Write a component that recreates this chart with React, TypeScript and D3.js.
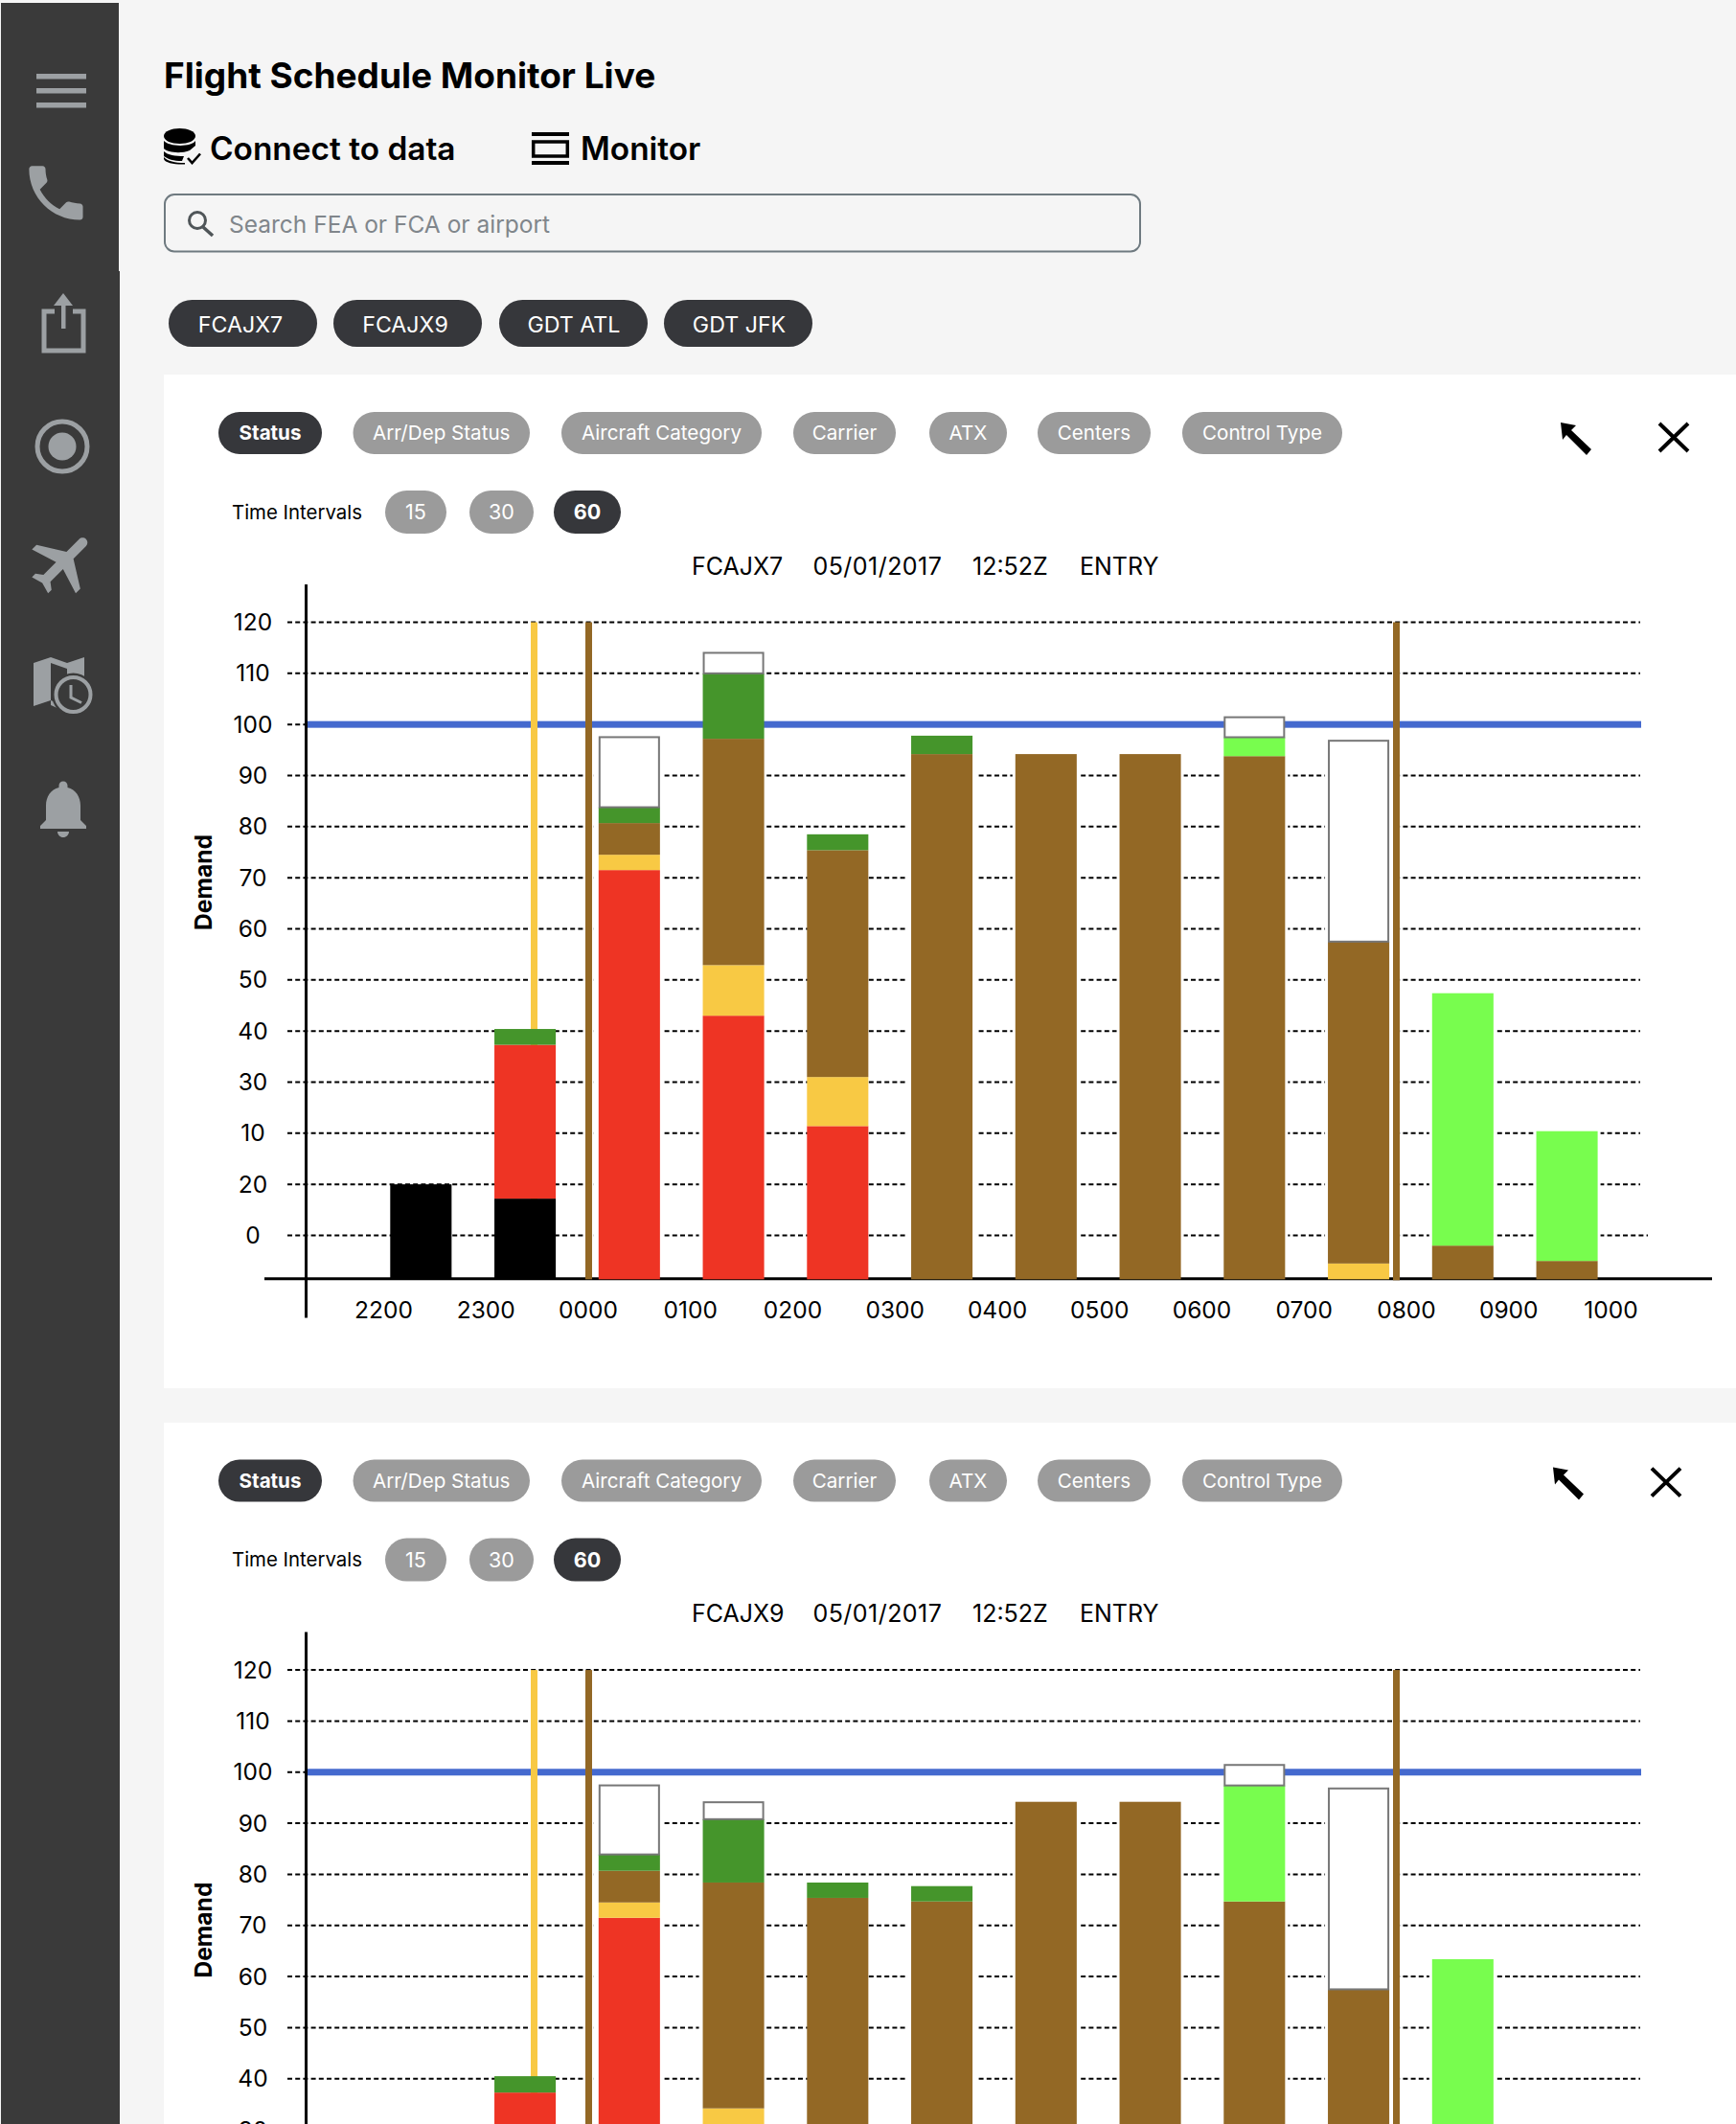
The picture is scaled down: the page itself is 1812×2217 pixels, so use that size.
import React from "react";
import * as d3 from "d3";

const FONT = "Inter, 'Noto Sans', sans-serif";

// ---------- data ----------
const hours = ["2200","2300","0000","0100","0200","0300","0400","0500","0600","0700","0800","0900"];
const xAxisLabels = ["2200","2300","0000","0100","0200","0300","0400","0500","0600","0700","0800","0900","1000"];
const yTickLabels = ["0","20","10","30","40","50","60","70","80","90","100","110","120"];
const seriesKeys = ["black","red","yellow","brown","green","lime","open"];
const seriesColors = ["#000000","#EE3424","#F8C944","#936825","#45952B","#78FD4E","#FFFFFF"];

const fcajx7Black  = [18.4,15.6,0,0,0,0,0,0,0,0,0,0];
const fcajx7Red    = [0,30.1,79.9,51.4,29.8,0,0,0,0,0,0,0];
const fcajx7Yellow = [0,0,3,9.9,9.6,0,0,0,0,2.9,0,0];
const fcajx7Brown  = [0,0,6.2,44.3,44.4,102.6,102.6,102.6,102.2,63,6.4,3.4];
const fcajx7Green  = [0,3.1,3.1,12.8,3.1,3.6,0,0,0,0,0,0];
const fcajx7Lime   = [0,0,0,0,0,0,0,0,3.7,0,49.4,25.4];
const fcajx7Open   = [0,0,13.9,4.2,0,0,0,0,4.1,39.5,0,0];

const fcajx9Black  = [18.4,15.6,0,0,0,0,0,0,0,0,0,0];
const fcajx9Red    = [0,30.1,79.9,32.4,0,0,0,0,0,0,0,0];
const fcajx9Yellow = [0,0,3,10.2,0,0,0,0,0,2.9,0,0];
const fcajx9Brown  = [0,0,6.2,44.2,83.8,83.1,102.6,102.6,83.1,63,6.4,3.4];
const fcajx9Green  = [0,3.2,3.2,12.4,3,3,0,0,0,0,0,0];
const fcajx9Lime   = [0,0,0,0,0,0,0,0,22.7,0,65.4,20];
const fcajx9Open   = [0,0,13.7,3.5,0,0,0,0,4.2,39.5,0,0];

const AXIS_BELOW_ZERO = 8.4;
const CAPACITY = 100;
const MARKER_TOP = 120;

const groupPills = ["Status","Arr/Dep Status","Aircraft Category","Carrier","ATX","Centers","Control Type"];
const intervalPills = ["15","30","60"];
const flightPills = ["FCAJX7","FCAJX9","GDT ATL","GDT JFK"];

// ---------- shared scales ----------
const x = d3.scaleBand().domain(hours).range([407.3, 1667.6]).paddingInner(0.411);
const xLabels = d3.scalePoint().domain(xAxisLabels).range([400.5, 1681.5]);

const ICON = "#9CA0A3";
const PILL_GREY = "#9B9B9B";
const PILL_DARK = "#36373B";
const PAGE_H = 2217;

function Pill({ x0, x1, y0, y1, text, dark, size = 20.6, weight, dy = 0, dx = 0 }: any) {
  return (
    <g>
      <rect x={x0} y={y0} width={x1 - x0} height={y1 - y0} rx={(y1 - y0) / 2} fill={dark ? PILL_DARK : PILL_GREY} />
      <text x={(x0 + x1) / 2 + dx} y={(y0 + y1) / 2 + size * 0.36 + dy} textAnchor="middle" fontSize={size}
        fontWeight={weight || (dark ? 700 : 400)} fill="#fff" fontFamily={FONT}>{text}</text>
    </g>
  );
}

function Sidebar() {
  return (
    <g>
      <rect x={1} y={3} width={123} height={281} fill="#3A3A3A" />
      <rect x={1} y={283} width={124} height={1934} fill="#3A3A3A" />
      {/* menu */}
      {[77, 92, 107].map((y) => <rect key={y} x={38} y={y} width={52} height={5.5} fill={ICON} />)}
      {/* phone */}
      <path transform="translate(21,164) scale(3.12)" fill={ICON}
        d="M6.62 10.79c1.44 2.83 3.76 5.14 6.59 6.59l2.2-2.2c.27-.27.67-.36 1.02-.24 1.12.37 2.33.57 3.57.57.55 0 1 .45 1 1V20c0 .55-.45 1-1 1-9.39 0-17-7.61-17-17 0-.55.45-1 1-1h3.5c.55 0 1 .45 1 1 0 1.25.2 2.45.57 3.57.11.35.03.74-.25 1.02l-2.2 2.2z" />
      {/* share */}
      <path d="M57 325 H46 V366 H87 V325 H76" fill="none" stroke={ICON} strokeWidth={5} />
      <rect x={64} y={316} width={4.5} height={27} fill={ICON} />
      <path d="M56 319 L66 306 L76 319 Z" fill={ICON} />
      {/* target */}
      <circle cx={65} cy={466} r={26} fill="none" stroke={ICON} strokeWidth={5} />
      <circle cx={65} cy={466} r={14.5} fill={ICON} />
      {/* plane */}
      <path transform="translate(67,588) rotate(45) scale(3.4) translate(-12,-12)" fill={ICON}
        d="M21 16v-2l-8-5V3.5c0-.83-.67-1.5-1.5-1.5S10 2.67 10 3.5V9l-8 5v2l8-2.5V19l-2 1.5V22l3.5-1 3.5 1v-1.5L13 19v-5.5l8 2.5z" />
      {/* map + clock */}
      <path d="M35 692 L53 686 L53 731 L35 737 Z" fill={ICON} />
      <path d="M53 686 L70 692 L70 698 L53 692 Z" fill={ICON} />
      <path d="M70 692 L88 686 L88 712 L70 712 Z" fill={ICON} />
      <path d="M53 731 L62 735 L62 740 L53 736 Z" fill={ICON} />
      <circle cx={76.5} cy={725} r={22.5} fill="#3A3A3A" />
      <circle cx={76.5} cy={725} r={18} fill="none" stroke={ICON} strokeWidth={4} />
      <path d="M74 715 V728 L85 733.5" fill="none" stroke={ICON} strokeWidth={3} />
      {/* bell */}
      <path transform="translate(30,808) scale(3)" fill={ICON}
        d="M12 22c1.1 0 2-.9 2-2h-4c0 1.1.89 2 2 2zm6-6v-5c0-3.07-1.64-5.64-4.5-6.32V4c0-.83-.67-1.5-1.5-1.5s-1.5.67-1.5 1.5v.68C7.63 5.36 6 7.92 6 11v5l-2 2v1h16v-1l-2-2z" />
    </g>
  );
}

function Header() {
  const pillX = [[176,331],[348,503],[521,676],[693,848]];
  const textNudge = [-2.5,-2.5,0.5,1];
  return (
    <g fontFamily={FONT}>
      <text x={171} y={92} fontSize={37} fontWeight={700} fill="#000">Flight Schedule Monitor Live</text>
      {/* database icon */}
      <path d="M171 142 C171 137 179 134 187.5 134 C196 134 204 137 204 142 C204 147 196 150 187.5 150 C179 150 171 147 171 142 Z" fill="#000" />
      <path d="M171 147 C176 153 199 154 204 147 V152 L198 157 C188 161 175 159 171 155 Z" fill="#000" />
      <path d="M171 158 C175 162 183 163 192 163 L190 168 C181 168 175 166 171 163 Z" fill="#000" />
      <path d="M171 164 C175 168 182 170 193 170 V171.5 C183 172 172 170 171 166 Z" fill="#000" />
      <path d="M196 165 L200.5 170 L209 160.5" fill="none" stroke="#000" strokeWidth={2.6} />
      <text x={219} y={166.5} fontSize={33.4} fontWeight={600} fill="#000">Connect to data</text>
      {/* monitor icon */}
      <rect x={555} y={138} width={39} height={4} fill="#000" />
      <rect x={556.7} y={148} width={35.6} height={15} fill="none" stroke="#000" strokeWidth={3.5} />
      <rect x={555} y={168} width={39} height={4} fill="#000" />
      <text x={606} y={166.5} fontSize={33.4} fontWeight={600} fill="#000">Monitor</text>
      {/* search */}
      <rect x={172} y={203} width={1018} height={59.5} rx={10} fill="#F5F5F5" stroke="#6F7A80" strokeWidth={2} />
      <circle cx={206} cy={230} r={8.5} fill="none" stroke="#4F5558" strokeWidth={3} />
      <path d="M212 237 L222 246" stroke="#4F5558" strokeWidth={3.5} />
      <text x={239} y={243} fontSize={24.5} fill="#80868B">Search FEA or FCA or airport</text>
      {flightPills.map((t, i) => (
        <Pill key={t} x0={pillX[i][0]} x1={pillX[i][1]} y0={313} y1={362} text={t} dark size={23.2} weight={400} dy={1} dx={textNudge[i]} />
      ))}
    </g>
  );
}

function Panel({ top, bottom, shift, iconShiftX, iconShiftY, titleNudge, title, rows }: any) {
  const y = d3.scaleLinear().domain([0, 120]).range([1289.5 + shift, 649.5 + shift]);
  const base = -AXIS_BELOW_ZERO;
  const table = hours.map((h, i) => {
    const row: any = { hour: h };
    seriesKeys.forEach((k, s) => { row[k] = rows[s][i]; });
    return row;
  });
  const stacked = d3.stack().keys(seriesKeys)(table);
  const totals = table.map((_, i) => d3.sum(rows, (r: any) => r[i]));
  const yBar = (v: number) => y(v + base);
  const groupX = [[228,336],[368.5,553],[586,795],[828,935],[970,1051],[1083,1201],[1234,1401]];
  const intX = [[402,466],[490,557],[578,648]];
  const titleX = [722, 848.5, 1015, 1127];
  const titleParts = [title, "05/01/2017", "12:52Z", "ENTRY"];
  const bw = x.bandwidth();
  // white gaps the gridlines leave beside some of the bars
  const gapLeft = [0,0,5,4,0,4,3,3,3,3,3,3];
  const gapRight = [0,0,3,0,0,4,3,3,3,3,3,3];
  const ax = 1629 + iconShiftX, cx = 1732 + iconShiftX;
  const sy = 441 + shift + iconShiftY;
  const axisBottom = 1375.5 + shift;
  const visible = (py: number) => py < PAGE_H + 18;

  return (
    <g fontFamily={FONT}>
      <rect x={171} y={top} width={1641} height={bottom - top} fill="#fff" />
      {groupPills.map((t, i) => (
        <Pill key={t} x0={groupX[i][0]} x1={groupX[i][1]} y0={430 + shift} y1={474 + shift} text={t} dark={i === 0} />
      ))}
      <text x={242} y={541.5 + shift} fontSize={20.4} fill="#000">Time Intervals</text>
      {intervalPills.map((t, i) => (
        <Pill key={t} x0={intX[i][0]} x1={intX[i][1]} y0={512 + shift} y1={557 + shift} text={t} dark={i === 2} size={21.5} />
      ))}
      {titleParts.map((t, i) => (
        <text key={t} x={titleX[i]} y={599 + shift + titleNudge} fontSize={25} letterSpacing={i === 1 ? 0.45 : 0} fill="#000">{t}</text>
      ))}
      {/* expand / close */}
      <path d={`M${ax} ${sy} L${ax + 16} ${sy + 3} L${ax + 11} ${sy + 8} L${ax + 32} ${sy + 28} L${ax + 27} ${sy + 34} L${ax + 6} ${sy + 13} L${ax + 2} ${sy + 18} Z`} fill="#000" />
      <path d={`M${cx} ${sy + 1} L${cx + 30} ${sy + 30} M${cx + 30} ${sy + 1} L${cx} ${sy + 30}`} stroke="#000" strokeWidth={4} fill="none" />

      {/* gridlines and y tick labels */}
      {yTickLabels.map((t, i) => {
        const v = i * 10;
        if (!visible(y(v))) return null;
        return (
          <g key={i}>
            <line x1={300} x2={v === 0 ? 1720 : 1712} y1={y(v)} y2={y(v)} stroke="#000" strokeWidth={2} strokeDasharray="5 3.2" />
            <text x={264} y={y(v) + 8.5} textAnchor="middle" fontSize={24.5} fill="#000">{t}</text>
          </g>
        );
      })}
      {hours.map((h, i) => (
        totals[i] > 0 && (gapLeft[i] + gapRight[i] > 0) ? (
          <rect key={h} x={x(h)! - gapLeft[i]} width={bw + gapLeft[i] + gapRight[i]} y={yBar(totals[i])} height={yBar(0) - yBar(totals[i])} fill="#fff" />
        ) : null
      ))}
      <rect x={319} width={1394} y={y(CAPACITY) - 3.5} height={7} fill="#4469CE" />
      {/* axes */}
      <line x1={319.5} x2={319.5} y1={610 + shift} y2={axisBottom} stroke="#000" strokeWidth={3} />
      <line x1={276} x2={1787} y1={yBar(0) + 0.4} y2={yBar(0) + 0.4} stroke="#000" strokeWidth={3} />
      {/* program rate markers */}
      <rect x={554} width={7} y={y(MARKER_TOP)} height={yBar(0) - y(MARKER_TOP)} fill="#F8C944" />
      <rect x={611} width={7} y={y(MARKER_TOP)} height={yBar(0) - y(MARKER_TOP) + 1} fill="#936825" />
      {/* bars */}
      {stacked.map((layer: any, s: number) => layer.map((d: any, i: number) => {
        if (d[1] - d[0] <= 0) return null;
        const open = seriesKeys[s] === "open";
        const foot = d[0] === 0 ? 1 : 0;
        return (
          <rect key={s + "-" + i} x={x(hours[i])! + (open ? 1 : 0)} width={bw - (open ? 2 : 0)}
            y={yBar(d[1]) + (open ? 1 : 0)} height={yBar(d[0]) - yBar(d[1]) - (open ? 1 : 0) + foot}
            fill={seriesColors[s]} stroke={open ? "#777" : "none"} strokeWidth={open ? 2 : 0} />
        );
      }))}
      <rect x={1454} width={7} y={y(MARKER_TOP)} height={yBar(0) - y(MARKER_TOP) + 2} fill="#936825" />
      {/* x labels */}
      {visible(axisBottom) && xAxisLabels.map((t) => (
        <text key={t} x={xLabels(t)} y={axisBottom} textAnchor="middle" fontSize={24.5} fill="#000">{t}</text>
      ))}
      <text transform={`translate(221,${921 + shift}) rotate(-90)`} textAnchor="middle" fontSize={24.6} fontWeight={700} fill="#000">Demand</text>
    </g>
  );
}

export default function App() {
  return (
    <svg width={1812} height={2217} viewBox="0 0 1812 2217"
      style={{ position: "absolute", left: 0, top: 0, display: "block" }}>
      <rect width={1812} height={2217} fill="#F5F5F5" />
      <Sidebar />
      <Header />
      <Panel top={391} bottom={1449} shift={0} iconShiftX={0} iconShiftY={0} titleNudge={1} title="FCAJX7"
        rows={[fcajx7Black, fcajx7Red, fcajx7Yellow, fcajx7Brown, fcajx7Green, fcajx7Lime, fcajx7Open]} />
      <Panel top={1485} bottom={2217} shift={1093.6} iconShiftX={-8} iconShiftY={-3} titleNudge={0} title="FCAJX9"
        rows={[fcajx9Black, fcajx9Red, fcajx9Yellow, fcajx9Brown, fcajx9Green, fcajx9Lime, fcajx9Open]} />
    </svg>
  );
}
